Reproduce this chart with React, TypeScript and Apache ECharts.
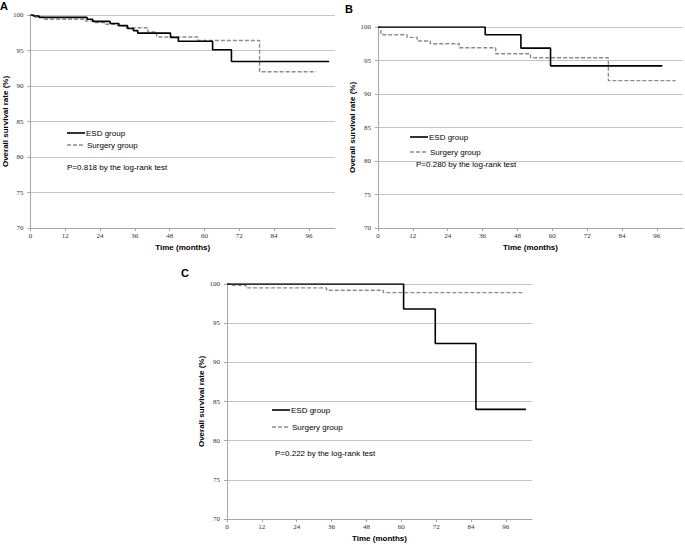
import React, { useEffect, useRef } from "react";
import * as echarts from "echarts";

// ---- Data (months, overall survival %) ----
const xTicks = [0, 12, 24, 36, 48, 60, 72, 84, 96];
const panelLabels = ["A", "B", "C"];
const seriesNames = ["ESD group", "Surgery group"];
const pValues = [
  "P=0.818 by the log-rank test",
  "P=0.280 by the log-rank test",
  "P=0.222 by the log-rank test",
];

const esdA: [number, number][] = [
  [0, 100], [1, 99.85], [3, 99.67], [19.5, 99.4], [21.5, 99.1], [27.5, 98.8],
  [30.5, 98.5], [33.5, 98.1], [35.5, 97.8], [37, 97.45], [48.3, 96.85],
  [51, 96.3], [62.8, 95.1], [69.3, 93.45], [103, 93.45],
];
const surgA: [number, number][] = [
  [0, 100], [1.5, 99.7], [4.5, 99.4], [19, 99.15], [22, 98.95], [26, 98.7],
  [30, 98.5], [33, 98.2], [40.5, 97.6], [43.5, 96.9], [57.8, 96.4],
  [79, 92.0], [98.5, 92.0],
];
const esdB: [number, number][] = [
  [0, 100], [36.9, 98.85], [49.2, 96.85], [59.4, 94.2], [97.9, 94.2],
];
const surgB: [number, number][] = [
  [0, 100], [1, 98.85], [10, 98.45], [13.5, 97.9], [18, 97.5], [28, 96.9],
  [40.5, 96.0], [52.5, 95.4], [79.3, 92.0], [102.5, 92.0],
];
const esdC: [number, number][] = [
  [0, 100], [60.8, 96.8], [71.7, 92.4], [85.7, 84.0], [102.9, 84.0],
];
const surgC: [number, number][] = [
  [0, 100], [1.5, 99.85], [6.5, 99.5], [34.3, 99.2], [53.8, 98.9], [102.3, 98.9],
];

const esdData = [esdA, esdB, esdC];
const surgData = [surgA, surgB, surgC];

// ---- Layout ----
const grids = [
  { left: 30, top: 15, width: 305, height: 213 },
  { left: 378, top: 27, width: 305, height: 201 },
  { left: 227, top: 284, width: 305, height: 235 },
];
const legendPos = [
  { x: 67, y1: 133, y2: 145, py: 167, px: 67 },
  { x: 410, y1: 137, y2: 152, py: 164, px: 416 },
  { x: 272, y1: 410, y2: 427, py: 453, px: 275 },
];
const labelPos = [
  { x: 0, y: 0 },
  { x: 345, y: 3 },
  { x: 181, y: 267 },
];

const SANS = "Liberation Sans, Arial, sans-serif";
const SERIF = "Liberation Serif, Times New Roman, serif";

export default function App() {
  const ref = useRef<HTMLDivElement>(null);

  useEffect(() => {
    if (!ref.current) return;
    const chart = echarts.init(ref.current, undefined, { renderer: "svg" });

    const xAxis = grids.map((_, i) => ({
      type: "value",
      gridIndex: i,
      min: 0,
      max: 105,
      interval: 12,
      name: "Time (months)",
      nameLocation: "middle",
      nameGap: 15,
      nameTextStyle: { fontFamily: SANS, fontWeight: "bold", fontSize: 8, color: "#000" },
      axisLine: { show: true, lineStyle: { color: "#a6a6a6", width: 1 } },
      axisTick: { show: true, length: 3, lineStyle: { color: "#a6a6a6" }, customValues: xTicks },
      axisLabel: { fontFamily: SERIF, fontSize: 7, color: "#333", margin: 4, customValues: xTicks },
      splitLine: { show: false },
    }));

    const yAxis = grids.map((_, i) => ({
      type: "value",
      gridIndex: i,
      min: 70,
      max: 100,
      interval: 5,
      name: "Overall survival rate (%)",
      nameLocation: "middle",
      nameGap: 20,
      nameTextStyle: { fontFamily: SANS, fontWeight: "bold", fontSize: 8, color: "#000" },
      axisLine: { show: true, lineStyle: { color: "#a6a6a6", width: 1 } },
      axisTick: { show: true, length: 3, lineStyle: { color: "#a6a6a6" } },
      axisLabel: { fontFamily: SERIF, fontSize: 7, color: "#333", margin: 7 },
      splitLine: { show: true, lineStyle: { color: "#c4c4c4", width: 1 } },
    }));

    const series: any[] = [];
    grids.forEach((_, i) => {
      series.push({
        type: "line",
        name: seriesNames[1],
        xAxisIndex: i,
        yAxisIndex: i,
        step: "end",
        showSymbol: false,
        data: surgData[i],
        lineStyle: { color: "#8c8c8c", width: 1.4, type: [4, 2] },
        z: 2,
      });
      series.push({
        type: "line",
        name: seriesNames[0],
        xAxisIndex: i,
        yAxisIndex: i,
        step: "end",
        showSymbol: false,
        data: esdData[i],
        lineStyle: { color: "#000", width: 1.6 },
        z: 3,
      });
    });

    const graphic: any[] = [];
    legendPos.forEach((p, i) => {
      graphic.push({
        type: "line",
        shape: { x1: p.x, y1: p.y1, x2: p.x + 18, y2: p.y1 },
        style: { stroke: "#000", lineWidth: 1.6 },
      });
      graphic.push({
        type: "text",
        x: p.x + 19,
        y: p.y1,
        style: { text: seriesNames[0], fontFamily: SANS, fontSize: 8, fill: "#000", verticalAlign: "middle" },
      });
      graphic.push({
        type: "line",
        shape: { x1: p.x, y1: p.y2, x2: p.x + 18, y2: p.y2 },
        style: { stroke: "#8c8c8c", lineWidth: 1.4, lineDash: [4, 2] },
      });
      graphic.push({
        type: "text",
        x: p.x + 20,
        y: p.y2,
        style: { text: seriesNames[1], fontFamily: SANS, fontSize: 8, fill: "#000", verticalAlign: "middle" },
      });
      graphic.push({
        type: "text",
        x: p.px,
        y: p.py,
        style: { text: pValues[i], fontFamily: SANS, fontSize: 8, fill: "#000", verticalAlign: "middle" },
      });
      graphic.push({
        type: "text",
        x: labelPos[i].x,
        y: labelPos[i].y,
        style: { text: panelLabels[i], fontFamily: SANS, fontSize: 11, fontWeight: "bold", fill: "#000" },
      });
    });

    chart.setOption({
      animation: false,
      backgroundColor: "#fff",
      grid: grids.map((g) => ({ ...g, containLabel: false })),
      xAxis,
      yAxis,
      series,
      graphic,
    });

    return () => chart.dispose();
  }, []);

  return (
    <div
      ref={ref}
      style={{ position: "absolute", left: 0, top: 0, width: 685, height: 545 }}
    />
  );
}
